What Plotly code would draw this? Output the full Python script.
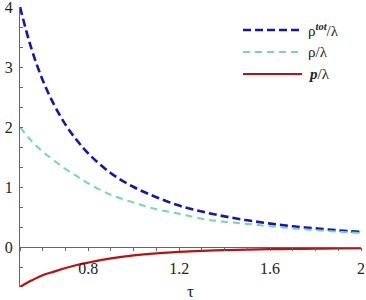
import plotly.graph_objects as go

tau = [0.5, 0.55, 0.6, 0.65, 0.7, 0.75, 0.8, 0.9, 1.0, 1.1, 1.2, 1.3, 1.4, 1.5, 1.6, 1.7, 1.8, 1.9, 2.0]
rho_tot = [4.0, 3.31, 2.78, 2.37, 2.04, 1.78, 1.56, 1.23, 1.0, 0.83, 0.69, 0.59, 0.51, 0.445, 0.39, 0.345, 0.31, 0.277, 0.25]
rho = [2.0, 1.77, 1.59, 1.44, 1.30, 1.18, 1.06, 0.87, 0.74, 0.63, 0.555, 0.47, 0.42, 0.385, 0.345, 0.31, 0.28, 0.255, 0.23]
p = [-0.665, -0.56, -0.47, -0.41, -0.35, -0.30, -0.26, -0.19, -0.14, -0.105, -0.08, -0.063, -0.052, -0.044, -0.037, -0.032, -0.028, -0.024, -0.021]

legend_labels = ["ρ<sup><b><i>tot</i></b></sup>/λ", "ρ/λ", "<b><i>p</i></b>/λ"]

BLUE = "#1414B8"
GREEN = "#72D8B0"
RED = "#BE1010"
FONT = "Times New Roman, Liberation Serif, DejaVu Serif, serif"

fig = go.Figure()
fig.add_trace(go.Scatter(x=tau, y=rho_tot, mode="lines", line=dict(color=BLUE, width=2.6, dash="8px,4px", shape="spline")))
fig.add_trace(go.Scatter(x=tau, y=rho, mode="lines", line=dict(color=GREEN, width=2, dash="7px,5px", shape="spline")))
fig.add_trace(go.Scatter(x=tau, y=p, mode="lines", line=dict(color=RED, width=2.2, shape="spline")))

W, H = 366, 300
ml, mr, mt, mb = 20, 5, 7, 13
ph = H - mt - mb
pw = W - ml - mr
ymin, ymax = -2/3, 4.0

def px_x(x):
    return (x - ml) / pw

def px_y(y):
    return (H - mb - y) / ph

styles = [(BLUE, 2.6, "8px,4px"), (GREEN, 2, "7px,5px"), (RED, 2.2, "solid")]
rows = [30, 52, 74]
for (c, w, d), ry, lab in zip(styles, rows, legend_labels):
    fig.add_shape(type="line", xref="paper", yref="paper", x0=px_x(243), x1=px_x(302),
                  y0=px_y(ry), y1=px_y(ry), line=dict(color=c, width=w, dash=d))
    fig.add_annotation(xref="paper", yref="paper", x=px_x(306), y=px_y(ry), text=lab,
                       showarrow=False, xanchor="left", yanchor="middle",
                       font=dict(family=FONT, size=15, color="#222"))

fig.add_annotation(xref="paper", yref="paper", x=0.5, y=px_y(291), text="τ", showarrow=False,
                   xanchor="center", yanchor="middle", font=dict(family=FONT, size=17, color="#222"))

fig.update_layout(
    width=W, height=H, margin=dict(l=ml, r=mr, t=mt, b=mb, autoexpand=False),
    paper_bgcolor="white", plot_bgcolor="white", showlegend=False,
    font=dict(family=FONT, size=13, color="#222"),
    xaxis=dict(range=[0.5, 2.0], anchor="free", position=(0 - ymin) / (ymax - ymin),
               automargin=False, ticklabeloverflow="allow",
               showgrid=False, zeroline=False, showline=True, linecolor="#666", linewidth=1,
               ticks="outside", ticklen=3, tickcolor="#666", tick0=0, dtick=0.4,
               ticklabelstandoff=4,
               minor=dict(ticks="outside", ticklen=3, tickcolor="#666", dtick=0.1, tick0=0),
               tickfont=dict(family=FONT, size=16, color="#222")),
    yaxis=dict(range=[ymin, ymax], showgrid=False, zeroline=False, showline=True,
               automargin=False, ticklabeloverflow="allow",
               linecolor="#666", linewidth=1, ticks="inside", ticklen=3, tickcolor="#666",
               tick0=0, dtick=1, ticklabelstandoff=3,
               minor=dict(ticks="inside", ticklen=3, tickcolor="#666", dtick=1/3, tick0=0),
               tickfont=dict(family=FONT, size=16, color="#222")),
)

fig.write_html("out.html", config={"displayModeBar": False},
               post_script="document.body.style.margin='0px';")
